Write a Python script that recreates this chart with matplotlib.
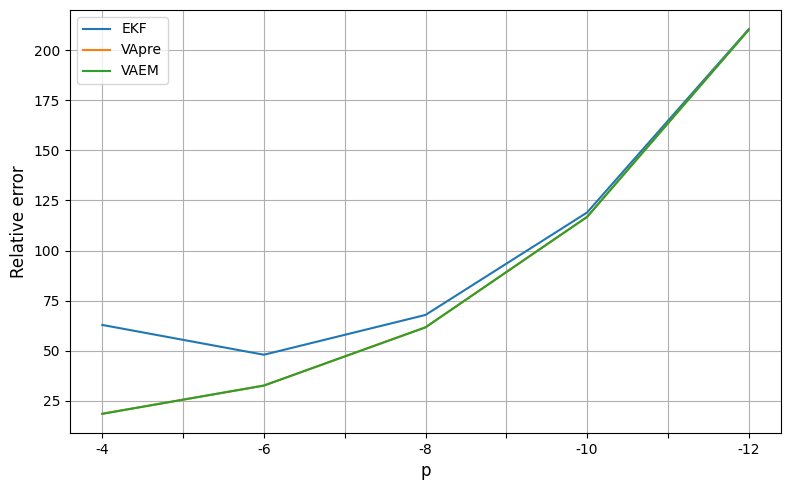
import matplotlib
matplotlib.use('Agg')
import matplotlib.pyplot as plt
import numpy as np

p_labels = ['-4', '-6', '-8', '-10', '-12']
ekf = [62.8, 47.9, 67.8, 119.0, 210.6]
vapre = [18.4, 32.5, 61.6, 116.8, 210.3]
vaem = [18.4, 32.5, 61.6, 116.8, 210.3]

fig, ax = plt.subplots(figsize=(7.9, 4.9), dpi=100)
x = np.arange(len(p_labels))
ax.plot(x, ekf, label='EKF')
ax.plot(x, vapre, label='VApre')
ax.plot(x, vaem, label='VAEM')

ticks = np.arange(0, len(p_labels) - 0.5, 0.5)
ax.set_xticks(ticks)
labels = []
for i, t in enumerate(ticks):
	labels.append(p_labels[i // 2] if i % 2 == 0 else '')
ax.set_xticklabels(labels)

ax.set_xlabel('p', fontsize=12)
ax.set_ylabel('Relative error', fontsize=12)
ax.grid(True)
ax.legend(loc='upper left')

fig.subplots_adjust(left=70/790, right=781/790, top=1-10/490, bottom=1-433/490)
fig.savefig('out.png')
